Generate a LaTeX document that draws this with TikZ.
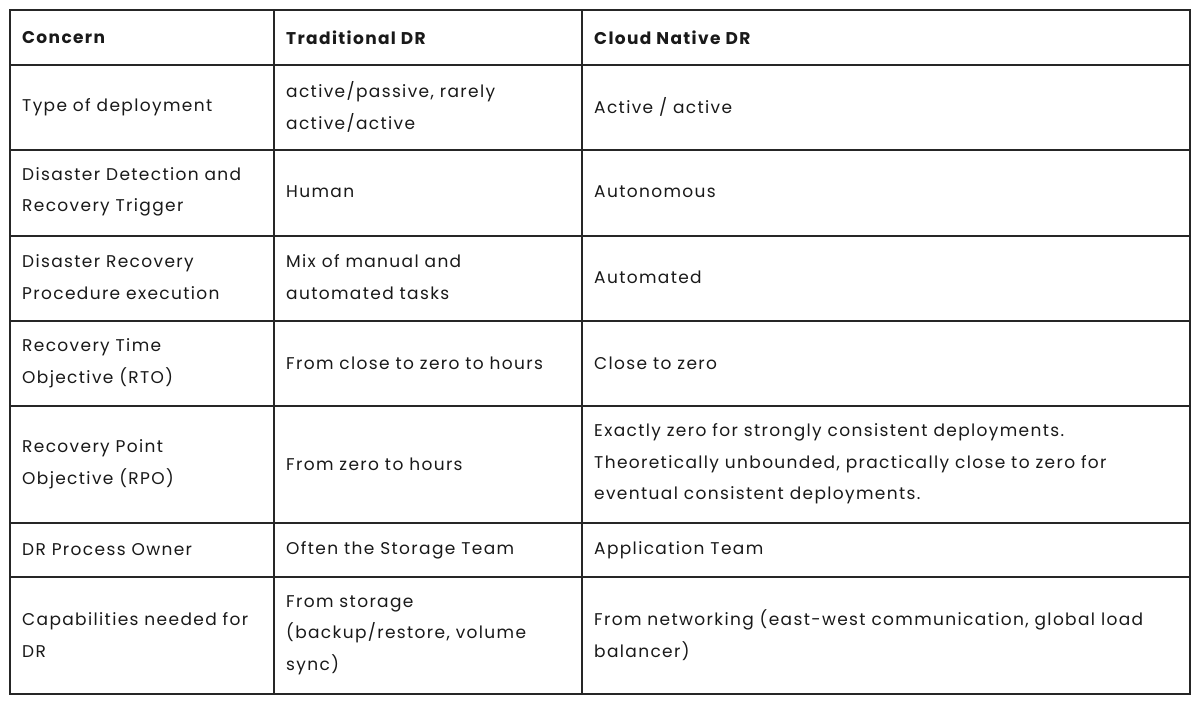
\documentclass[tikz,border=0pt]{standalone}
\usepackage{fontspec}
\setmainfont{Poppins}[LetterSpace=8]
\begin{document}
\begin{tikzpicture}[x=1pt,y=-1pt,
  grid/.style={line width=1.2pt,draw=black!85},
  cell/.style={anchor=west,align=left,inner sep=0pt,font=\fontsize{17}{31.5}\selectfont,text=black!90},
  head/.style={cell,font=\fontsize{17}{31.5}\selectfont\bfseries}]
\fill[white] (0,0) rectangle (1200,703);
\useasboundingbox (0,0) rectangle (1200,703);
\draw[grid] (10,10) rectangle (1190,694);
\foreach \y in {65,150,236,321,406,523,577} \draw[grid] (10,\y) -- (1190,\y);
\foreach \x in {274,582} \draw[grid] (\x,10) -- (\x,694);
\node[head] (h1) at (22,38) {Concern};
\node[head] (h2) at (286,38) {Traditional DR};
\node[head] (h3) at (594,38) {Cloud Native DR};
\node[cell] (a1) at (22,107) {Type of deployment};
\node[cell] (a2) at (286,107) {active/passive, rarely\\active/active};
\node[cell] (a3) at (594,107) {Active / active};
\node[cell] (b1) at (22,192) {Disaster Detection and\\Recovery Trigger};
\node[cell] (b2) at (286,192) {Human};
\node[cell] (b3) at (594,192) {Autonomous};
\node[cell] (c1) at (22,277) {Disaster Recovery\\Procedure execution};
\node[cell] (c2) at (286,277) {Mix of manual and\\automated tasks};
\node[cell] (c3) at (594,277) {Automated};
\node[cell] (d1) at (22,363) {Recovery Time\\Objective (RTO)};
\node[cell] (d2) at (286,363) {From close to zero to hours};
\node[cell] (d3) at (594,363) {Close to zero};
\node[cell] (e1) at (22,464) {Recovery Point\\Objective (RPO)};
\node[cell] (e2) at (286,464) {From zero to hours};
\node[cell] (e3) at (594,464) {Exactly zero for strongly consistent deployments.\\Theoretically unbounded, practically close to zero for\\eventual consistent deployments.};
\node[cell] (f1) at (22,550) {DR Process Owner};
\node[cell] (f2) at (286,550) {Often the Storage Team};
\node[cell] (f3) at (594,550) {Application Team};
\node[cell] (g1) at (22,635) {Capabilities needed for\\DR};
\node[cell] (g2) at (286,635) {From storage\\(backup/restore, volume\\sync)};
\node[cell] (g3) at (594,635) {From networking (east-west communication, global load\\balancer)};
\end{tikzpicture}
\end{document}
